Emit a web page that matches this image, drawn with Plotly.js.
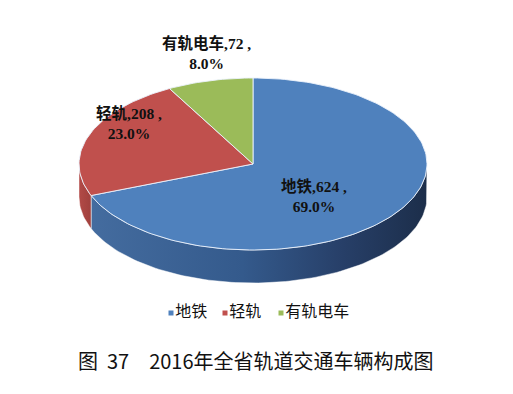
<!DOCTYPE html>
<html>
<head>
<meta charset="utf-8">
<script src="https://cdn.plot.ly/plotly-3.0.1.min.js"></script>
<style>
html,body{margin:0;padding:0;background:#fff;}
#chart{width:513px;height:394px;}
</style>
</head>
<body>
<div id="chart"></div>
<script>
// ---- data ----
const categories = ['地铁', '轻轨', '有轨电车'];
const values = [624, 208, 72];
const chartTitle = '图\u00a0\u00a037\u30002016年全省轨道交通车辆构成图';

// ---- style / layout constants ----
const topColors = ['#4F81BD', '#C0504D', '#9BBB59'];
const sideScales = [
  [[0, '#446c9f'], [0.45, '#345a8c'], [0.75, '#273f68'], [1, '#1c2e4a']],
  [[0, '#b24a47'], [1, '#a0403d']],
  [[0, '#7f9a48'], [1, '#6a823a']]
];
const cx = 253, cy = 164, rx = 174, ry = 86, depth = 33;
const labelPos = [[314, 196], [129, 123], [206, 53]];
const legendPos = [[171, 313], [225, 313], [281, 313]];

const total = values.reduce((a, b) => a + b, 0);
function pt(deg, dy) {
  const r = deg * Math.PI / 180;
  return [cx + rx * Math.cos(r), cy - ry * Math.sin(r) + (dy || 0)];
}
function arc(a1, a2, dy) {
  const n = Math.max(2, Math.ceil(Math.abs(a2 - a1) / 1.5));
  const xs = [], ys = [];
  for (let k = 0; k <= n; k++) {
    const p = pt(a1 + (a2 - a1) * k / n, dy);
    xs.push(p[0]); ys.push(p[1]);
  }
  return [xs, ys];
}

const sideTraces = [], topTraces = [], annotations = [];
let cum = 0;
values.forEach((v, i) => {
  const aStart = 90 - 360 * cum / total;
  const aEnd = 90 - 360 * (cum + v) / total;
  cum += v;
  // visible side walls (front half)
  [[-180, 0], [-540, -360]].forEach(([wlo, whi]) => {
    const lo = Math.max(aEnd, wlo), hi = Math.min(aStart, whi);
    if (hi > lo) {
      const t = arc(lo, hi, 0), b = arc(hi, lo, depth);
      sideTraces.push({
        type: 'scatter', mode: 'lines',
        x: t[0].concat(b[0]).concat([t[0][0]]),
        y: t[1].concat(b[1]).concat([t[1][0]]),
        fill: 'toself',
        fillgradient: {type: 'horizontal', colorscale: sideScales[i]},
        line: {color: 'rgba(255,255,255,0.6)', width: 0.8},
        hoverinfo: 'skip', showlegend: false
      });
    }
  });
  // top face
  const a = arc(aStart, aEnd, 0);
  topTraces.push({
    type: 'scatter', mode: 'lines',
    x: [cx].concat(a[0]).concat([cx]),
    y: [cy].concat(a[1]).concat([cy]),
    fill: 'toself', fillcolor: topColors[i],
    line: {color: 'rgba(235,242,252,0.9)', width: 1},
    name: categories[i], hoverinfo: 'name', showlegend: false
  });
  const pct = (100 * v / total).toFixed(1);
  annotations.push({
    x: labelPos[i][0], y: labelPos[i][1], xref: 'x', yref: 'y',
    text: '<b>' + categories[i] + ',' + v + ' ,<br>' + pct + '%</b>',
    showarrow: false, align: 'center',
    font: {family: 'Liberation Serif, Noto Sans CJK SC, serif', size: 15.5, color: '#111'}
  });
});

const legendTraces = categories.map((c, i) => ({
  type: 'scatter', mode: 'markers+text',
  x: [legendPos[i][0]], y: [legendPos[i][1]],
  marker: {symbol: 'square', size: 5, color: topColors[i]},
  text: [c], textposition: 'middle right',
  textfont: {family: 'Noto Sans CJK SC, sans-serif', size: 16, color: '#111'},
  hoverinfo: 'skip', showlegend: false, cliponaxis: false
}));

annotations.push({
  x: 256, y: 360, xref: 'x', yref: 'y',
  text: chartTitle, showarrow: false,
  font: {family: 'Noto Sans CJK SC, sans-serif', size: 20, color: '#111'}
});

const layout = {
  width: 513, height: 394,
  margin: {l: 0, r: 0, t: 0, b: 0},
  paper_bgcolor: '#fff', plot_bgcolor: '#fff',
  xaxis: {range: [0, 513], visible: false, fixedrange: true},
  yaxis: {range: [394, 0], visible: false, fixedrange: true},
  showlegend: false,
  annotations: annotations
};

Plotly.newPlot('chart', sideTraces.concat(topTraces).concat(legendTraces), layout, {displayModeBar: false, staticPlot: true});
</script>
</body>
</html>
